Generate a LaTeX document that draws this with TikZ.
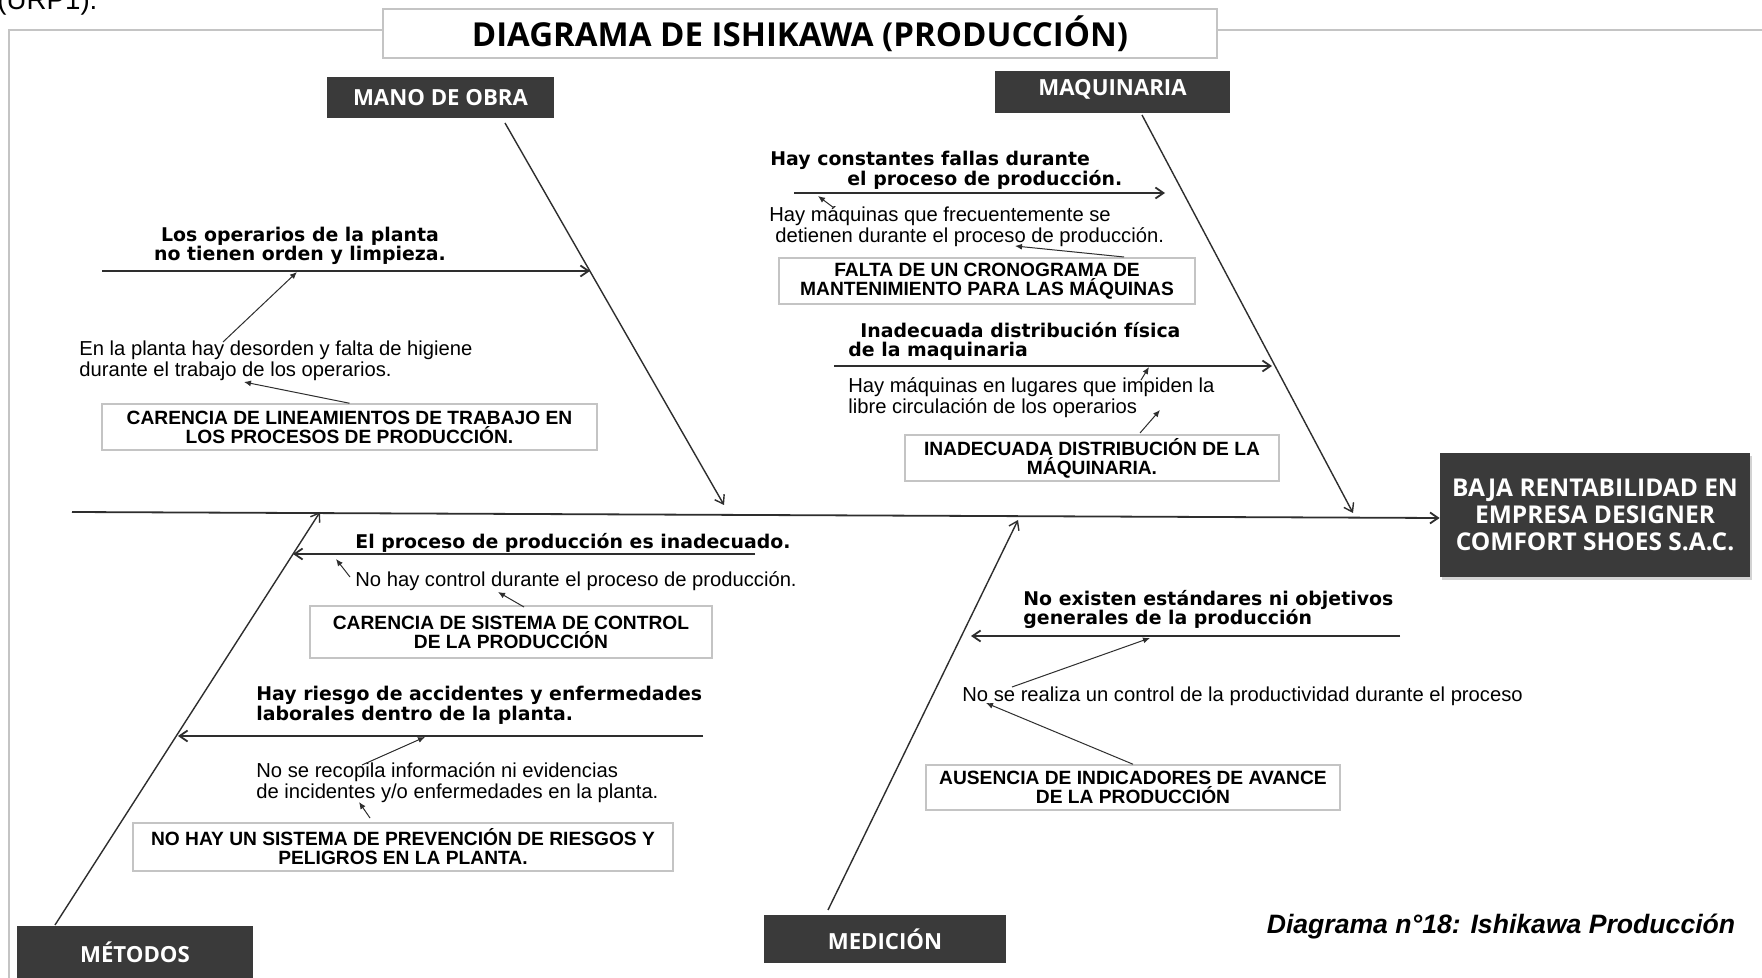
\documentclass[tikz,border=0pt]{standalone}
\usepackage{fontspec}
\setmainfont{Liberation Sans}
\newfontfamily\headfont{Open Sans}
\newfontfamily\labfont{DejaVu Sans}
\usetikzlibrary{arrows.meta,shadows}
\definecolor{boxgray}{HTML}{3A3A3A}
\definecolor{framegray}{HTML}{C4C4C4}
\definecolor{linegray}{HTML}{2E2E2E}

\begin{document}
\begin{tikzpicture}[x=0.5pt,y=-0.5pt]
\tikzset{catbox/.style = {fill=boxgray, text=white, inner sep=0pt, font=\headfont\bfseries\fontsize{11.1}{12}\selectfont}}
\tikzset{causebox/.style = {draw=framegray, line width=0.75pt, fill=white, align=center, inner sep=0pt, font=\bfseries\fontsize{9.6}{9.5}\selectfont}}
\tikzset{subcause/.style = {align=left, inner sep=0pt, font=\labfont\bfseries\fontsize{9.45}{9.8}\selectfont}}
\tikzset{detail/.style = {align=left, inner sep=0pt, font=\fontsize{10.1}{9.4}\selectfont}}
\tikzset{bone/.style = {draw=linegray, line width=0.7pt, -{Straight Barb[length=4pt,width=5.5pt]}}}
\tikzset{rib/.style = {draw=linegray, line width=0.9pt, -{Straight Barb[length=4pt,width=5.5pt]}}}
\tikzset{cause/.style = {draw=linegray, line width=0.5pt, -{Latex[length=3.5pt,width=3pt]}}}
\path[use as bounding box, fill=white] (0,0) rectangle (1762,978);

\node[detail, anchor=base west] (urp) at (-3,9.5) {\fontsize{13.85}{14}\selectfont (URP1).};
\draw[framegray, line width=1pt] (1762,30) -- (9,30) -- (9,990);
\node[draw=framegray, line width=0.75pt, fill=white, minimum width=417pt, minimum height=24.5pt, inner sep=0pt,
  font=\headfont\bfseries\fontsize{16.5}{18}\selectfont] (title) at (800,33.5) {DIAGRAMA DE ISHIKAWA (PRODUCCIÓN)};

% categories and effect
\node[catbox, minimum width=113.5pt, minimum height=20.5pt] (mano) at (440.5,97.5) {MANO DE OBRA};
\node[catbox, minimum width=117.5pt, minimum height=21pt, text depth=5pt] (maq) at (1112.5,92) {MAQUINARIA};
\node[catbox, minimum width=118pt, minimum height=26pt] (met) at (135,952) {MÉTODOS};
\node[catbox, minimum width=121pt, minimum height=24pt] (med) at (885,939) {MEDICIÓN};
\node[catbox, align=center, minimum width=155pt, minimum height=62pt, font=\headfont\bfseries\fontsize{12.25}{13.5}\selectfont,
  drop shadow={shadow xshift=1pt, shadow yshift=-1.5pt, opacity=0.35}] (effect) at (1595,515)
  {BAJA RENTABILIDAD EN\\EMPRESA DESIGNER\\COMFORT SHOES S.A.C.};

% spine and bones
\coordinate (tail) at (72,512);
\draw[rib] (tail) -- ([yshift=-1.5pt]effect.west);
\coordinate (manoA) at (505,123);
\coordinate (manoB) at (724,505);
\coordinate (maqA) at (1142,115);
\coordinate (maqB) at (1353,513);
\coordinate (metA) at (55,925);
\coordinate (metB) at (320,512);
\coordinate (medA) at (828,910);
\coordinate (medB) at (1018,520);
\draw[bone] (manoA) -- (manoB);
\draw[bone] (maqA) -- (maqB);
\draw[bone] (metA) -- (metB);
\draw[bone] (medA) -- (medB);

% mano de obra
\node[subcause, align=center] (mLab) at (300,246) {Los operarios de la planta\\no tienen orden y limpieza.};
\node[detail, anchor=west] (mTxt) at (79,361) {En la planta hay desorden y falta de higiene\\durante el trabajo de los operarios.};
\node[causebox, minimum width=247.5pt, minimum height=23pt] (mBox) at (349.5,427) {CARENCIA DE LINEAMIENTOS DE TRABAJO EN\\LOS PROCESOS DE PRODUCCIÓN.};
\coordinate (m1a) at (102,271);
\coordinate (m1b) at (590,271);
\coordinate (m1c) at (223,342);
\coordinate (m1d) at (297,272);
\coordinate (m1e) at (244,382);
\draw[rib] (m1a) -- (m1b);
\draw[cause] (m1c) -- (m1d);
\draw[cause] (mBox.north) -- (m1e);

% maquinaria
\node[subcause, anchor=west] (qLab1) at (770,170) {Hay constantes fallas durante\\\hspace*{38.5pt}el proceso de producción.};
\node[detail, anchor=west] (qTxt1) at (769,226.5) {Hay máquinas que frecuentemente se\\\hspace*{3pt}detienen durante el proceso de producción.};
\node[causebox, minimum width=208pt, minimum height=23pt] (qBox1) at (987,281) {FALTA DE UN CRONOGRAMA DE\\MANTENIMIENTO PARA LAS MÁQUINAS};
\node[subcause, anchor=west] (qLab2) at (848,341.5) {\hspace*{6pt}Inadecuada distribución física\\de la maquinaria};
\node[detail, anchor=west] (qTxt2) at (848,398) {Hay máquinas en lugares que impiden la\\libre circulación de los operarios};
\node[causebox, minimum width=187pt, minimum height=23pt] (qBox2) at (1092,458) {INADECUADA DISTRIBUCIÓN DE LA\\MÁQUINARIA.};
\coordinate (q1a) at (794,193);
\coordinate (q1b) at (1165,193);
\coordinate (q1c) at (834,208);
\coordinate (q1d) at (818,196);
\coordinate (q1e) at (1124,257);
\coordinate (q1f) at (1015,246);
\coordinate (q2a) at (834,366);
\coordinate (q2b) at (1272,366);
\coordinate (q2c) at (1141,380);
\coordinate (q2d) at (1149,367);
\coordinate (q2e) at (1140,433);
\coordinate (q2f) at (1160,410);
\draw[rib] (q1a) -- (q1b);
\draw[cause] (q1c) -- (q1d);
\draw[cause] (q1e) -- (q1f);
\draw[rib] (q2a) -- (q2b);
\draw[cause] (q2c) -- (q2d);
\draw[cause] (q2e) -- (q2f);

% metodos
\node[subcause, anchor=west] (tLab1) at (355,543) {El proceso de producción es inadecuado.};
\node[detail, anchor=west] (tTxt1) at (355,581) {No hay control durante el proceso de producción.};
\node[causebox, minimum width=201pt, minimum height=26pt] (tBox1) at (511,632) {CARENCIA DE SISTEMA DE CONTROL\\DE LA PRODUCCIÓN};
\node[subcause, anchor=west] (tLab2) at (256,705.5) {Hay riesgo de accidentes y enfermedades\\laborales dentro de la planta.};
\node[detail, anchor=west] (tTxt2) at (256,782.5) {No se recopila información ni evidencias\\de incidentes y/o enfermedades en la planta.};
\node[causebox, minimum width=270pt, minimum height=24pt] (tBox2) at (403,847) {NO HAY UN SISTEMA DE PREVENCIÓN DE RIESGOS Y\\PELIGROS EN LA PLANTA.};
\coordinate (t1a) at (755,554);
\coordinate (t1b) at (293,554);
\coordinate (t1c) at (350,577);
\coordinate (t1d) at (336,559);
\coordinate (t1e) at (524,607);
\coordinate (t1f) at (498,592);
\coordinate (t2a) at (703,736);
\coordinate (t2b) at (178,736);
\coordinate (t2c) at (362,765);
\coordinate (t2d) at (425,737);
\coordinate (t2e) at (370,818);
\coordinate (t2f) at (359,802);
\draw[rib] (t1a) -- (t1b);
\draw[cause] (t1c) -- (t1d);
\draw[cause] (t1e) -- (t1f);
\draw[rib] (t2a) -- (t2b);
\draw[cause] (t2c) -- (t2d);
\draw[cause] (t2e) -- (t2f);

% medicion
\node[subcause, anchor=west] (dLab) at (1023,609.5) {No existen estándares ni objetivos\\generales de la producción};
\node[detail, anchor=west] (dTxt) at (962,696) {No se realiza un control de la productividad durante el proceso};
\node[causebox, minimum width=207pt, minimum height=22.5pt] (dBox) at (1133,787.5) {AUSENCIA DE INDICADORES DE AVANCE\\DE LA PRODUCCIÓN};
\coordinate (d1a) at (1400,636);
\coordinate (d1b) at (971,636);
\coordinate (d1c) at (1012,687);
\coordinate (d1d) at (1150,638);
\coordinate (d1e) at (986,703);
\draw[rib] (d1a) -- (d1b);
\draw[cause] (d1c) -- (d1d);
\draw[cause] (dBox.north) -- (d1e);

\node[font=\bfseries\itshape\fontsize{13.3}{14}\selectfont, inner sep=0pt] (caption) at (1501,927) {Diagrama n°18: Ishikawa Producción};
\end{tikzpicture}
\end{document}
